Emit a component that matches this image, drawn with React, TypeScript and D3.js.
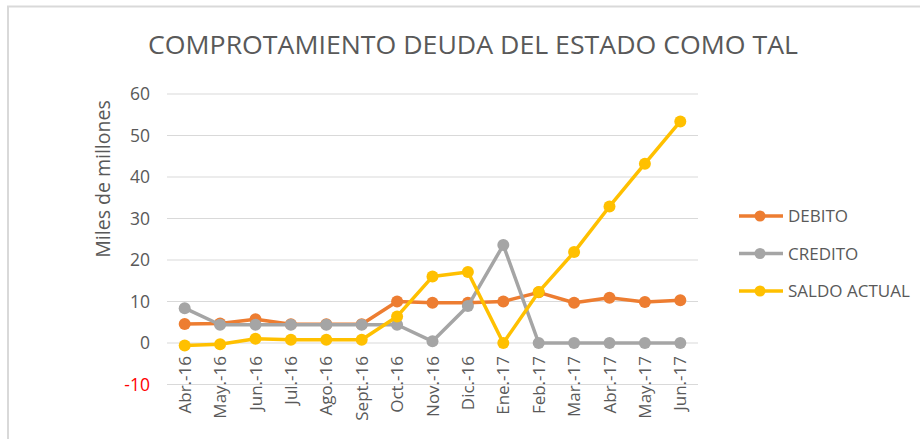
import React, {useRef, useEffect} from 'react';
import * as d3 from 'd3';

const months = ['Abr.-16', 'May.-16', 'Jun.-16', 'Jul.-16', 'Ago.-16', 'Sept.-16', 'Oct.-16', 'Nov.-16',
    'Dic.-16', 'Ene.-17', 'Feb.-17', 'Mar.-17', 'Abr.-17', 'May.-17', 'Jun.-17'];
const debito = [4.6, 4.7, 5.7, 4.5, 4.5, 4.5, 10.0, 9.7, 9.7, 10.0, 12.2, 9.7, 10.9, 9.9, 10.3];
const credito = [8.4, 4.4, 4.4, 4.4, 4.4, 4.4, 4.4, 0.4, 8.9, 23.6, 0, 0, 0, 0, 0];
const saldo = [-0.6, -0.3, 1.0, 0.8, 0.8, 0.8, 6.4, 16.0, 17.1, 0, 12.3, 21.9, 32.9, 43.2, 53.4];
const yTicks = [-10, 0, 10, 20, 30, 40, 50, 60];

const seriesList = [
    {name: 'DEBITO', values: debito, color: '#ed7d31'},
    {name: 'CREDITO', values: credito, color: '#a5a5a5'},
    {name: 'SALDO ACTUAL', values: saldo, color: '#ffc000'},
];

const font = '"Open Sans", sans-serif';

const App = () => {
    const ref = useRef(null);

    useEffect(() => {
        const svg = d3.select(ref.current);
        svg.selectAll('*').remove();

        const x = d3.scaleBand().domain(months).range([167, 698]);
        const y = d3.scaleLinear().domain([-10, 60]).range([384.5, 94]);

        // frame
        svg.append('path')
           .attr('d', 'M8,440 L8,6.5 L925,6.5')
           .attr('fill', 'none')
           .attr('stroke', '#d9d9d9')
           .attr('stroke-width', 2);

        svg.append('text')
           .attr('x', 473)
           .attr('y', 54)
           .attr('text-anchor', 'middle')
           .attr('font-family', font)
           .attr('font-size', 26)
           .attr('fill', '#595959')
           .attr('textLength', 650)
           .attr('lengthAdjust', 'spacingAndGlyphs')
           .text('COMPROTAMIENTO DEUDA DEL ESTADO COMO TAL');

        svg.append('g')
           .selectAll('line')
           .data(yTicks)
           .enter()
           .append('line')
           .attr('x1', 167).attr('x2', 698)
           .attr('y1', d => y(d)).attr('y2', d => y(d))
           .attr('stroke', '#d9d9d9')
           .attr('stroke-width', 1);

        svg.append('g')
           .selectAll('text')
           .data(yTicks)
           .enter()
           .append('text')
           .attr('x', 150)
           .attr('y', d => y(d) + 6)
           .attr('text-anchor', 'end')
           .attr('font-family', font)
           .attr('font-size', 17.5)
           .attr('fill', d => d < 0 ? '#ff0000' : '#595959')
           .text(d => d);

        svg.append('text')
           .attr('transform', 'translate(110,179) rotate(-90)')
           .attr('text-anchor', 'middle')
           .attr('font-family', font)
           .attr('font-size', 19.5)
           .attr('fill', '#595959')
           .text('Miles de millones');

        svg.append('g')
           .selectAll('text')
           .data(months)
           .enter()
           .append('text')
           .attr('transform', d => 'translate(' + (x(d) + x.bandwidth() / 2 + 6) + ',356) rotate(-90)')
           .attr('text-anchor', 'end')
           .attr('font-family', font)
           .attr('font-size', 17)
           .attr('fill', '#595959')
           .text(d => d);

        const line = d3.line()
            .x((d, i) => x(months[i]) + x.bandwidth() / 2)
            .y(d => y(d));

        seriesList.forEach(s => {
            svg.append('path')
               .datum(s.values)
               .attr('d', line)
               .attr('fill', 'none')
               .attr('stroke', s.color)
               .attr('stroke-width', 3.5)
               .attr('stroke-linejoin', 'round');
            svg.append('g')
               .selectAll('circle')
               .data(s.values)
               .enter()
               .append('circle')
               .attr('cx', (d, i) => x(months[i]) + x.bandwidth() / 2)
               .attr('cy', d => y(d))
               .attr('r', 6)
               .attr('fill', s.color);
        });

        const legend = svg.append('g')
            .selectAll('g')
            .data(seriesList)
            .enter()
            .append('g')
            .attr('transform', (d, i) => 'translate(0,' + (216 + i * 37.5) + ')');
        legend.append('line')
              .attr('x1', 739).attr('x2', 783)
              .attr('stroke', d => d.color)
              .attr('stroke-width', 3.5);
        legend.append('circle')
              .attr('cx', 760).attr('r', 5.5)
              .attr('fill', d => d.color);
        legend.append('text')
              .attr('x', 788)
              .attr('y', 6)
              .attr('font-family', font)
              .attr('font-size', 17)
              .attr('fill', '#595959')
              .text(d => d.name);
    });

    return (
        <svg ref={ref} width={920} height={439}
             style={{position: 'absolute', left: 0, top: 0, background: '#fff'}}></svg>
    );
};

export default App;
